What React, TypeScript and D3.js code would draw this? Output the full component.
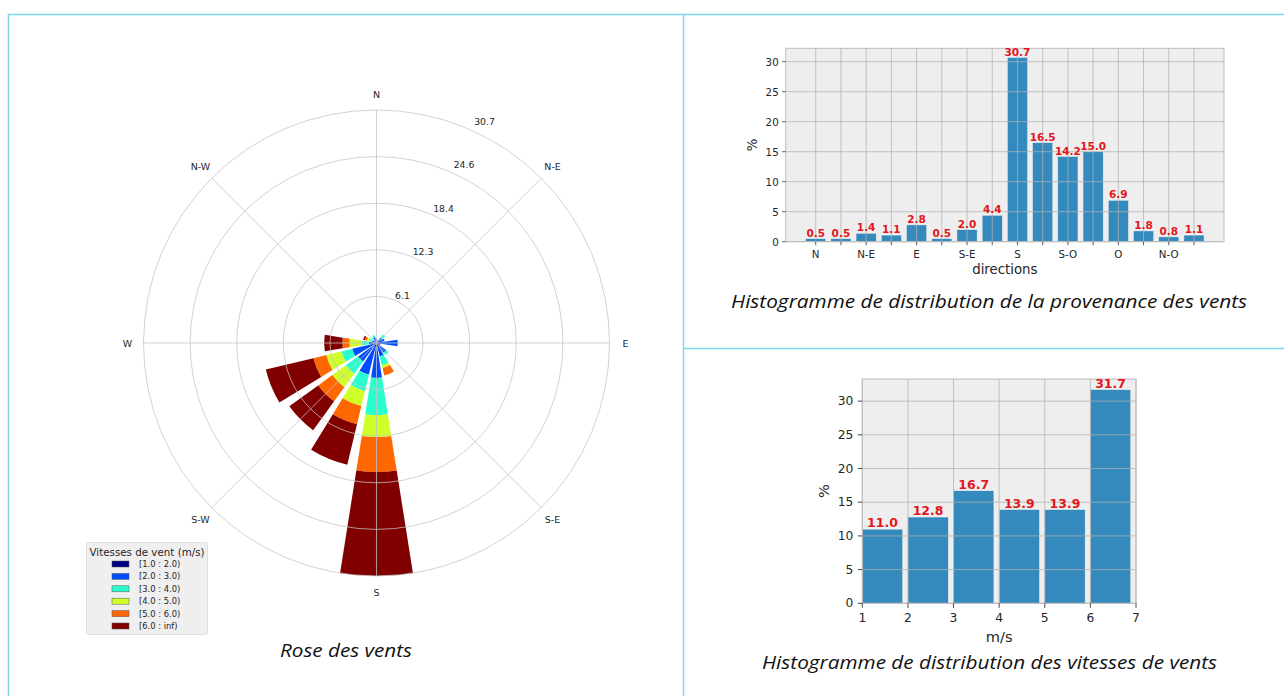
import React from "react";
import * as d3 from "d3";

// ---------- DATA ----------
const ROSE_DIRECTIONS = ["N", "NNE", "NE", "ENE", "E", "ESE", "SE", "SSE", "S", "SSW", "SW", "WSW", "W", "WNW", "NW", "NNW"];
const SPEED_LABELS = ["[1.0 : 2.0)", "[2.0 : 3.0)", "[3.0 : 4.0)", "[4.0 : 5.0)", "[5.0 : 6.0)", "[6.0 : inf)"];
const SPEED_COLORS = ["#000080", "#004cff", "#29ffce", "#ceff29", "#ff6800", "#800000"];
// share (%) of each direction for every speed bin
const BIN_1_2 = [0.2, 0.1, 0.3, 0.3, 0.6, 0.2, 0.4, 0.4, 0.6, 0.6, 0.5, 0.4, 0.3, 0.2, 0.2, 0.3];
const BIN_2_3 = [0.3, 0.2, 0.6, 0.8, 2.2, 0.3, 1.2, 1.4, 4.0, 3.7, 2.5, 2.9, 0.7, 0.4, 0.3, 0.5];
const BIN_3_4 = [0, 0.2, 0.5, 0, 0, 0, 0.4, 1.2, 4.9, 2.2, 2.0, 1.45, 0.9, 0.4, 0.3, 0.3];
const BIN_4_5 = [0, 0, 0, 0, 0, 0, 0, 0.4, 2.9, 2.05, 2.2, 2.05, 1.66, 0.3, 0, 0];
const BIN_5_6 = [0, 0, 0, 0, 0, 0, 0, 1.0, 4.6, 2.45, 2.3, 1.75, 0.94, 0.3, 0, 0];
const BIN_6_INF = [0, 0, 0, 0, 0, 0, 0, 0, 13.7, 5.5, 4.7, 6.45, 2.4, 0.2, 0, 0];
const ROSE_BINS = [BIN_1_2, BIN_2_3, BIN_3_4, BIN_4_5, BIN_5_6, BIN_6_INF];
const ROSE_COMPASS = ["N", "N-E", "E", "S-E", "S", "S-W", "W", "N-W"];
const RING_LABELS = ["6.1", "12.3", "18.4", "24.6", "30.7"];
const RING_MAX = 30.7;

const DIR_PCT = [0.5, 0.5, 1.4, 1.1, 2.8, 0.5, 2.0, 4.4, 30.7, 16.5, 14.2, 15.0, 6.9, 1.8, 0.8, 1.1];
const DIR_TICKS = ["N", "", "N-E", "", "E", "", "S-E", "", "S", "", "S-O", "", "O", "", "N-O", ""];
const DIR_YTICKS = [0, 5, 10, 15, 20, 25, 30];

const SPEED_START = [1, 2, 3, 4, 5, 6];
const SPEED_PCT = [11.0, 12.8, 16.7, 13.9, 13.9, 31.7];
const SPEED_XTICKS = [1, 2, 3, 4, 5, 6, 7];
const SPEED_YTICKS = [0, 5, 10, 15, 20, 25, 30];

const CAPTION_ROSE = "Rose des vents";
const CAPTION_DIR = "Histogramme de distribution de la provenance des vents";
const CAPTION_SPEED = "Histogramme de distribution des vitesses de vents";

// ---------- STYLE ----------
const MPL = "'DejaVu Sans', sans-serif";
const CAP = "'Open Sans', 'Noto Sans', sans-serif";
const FRAME = "#7fd4f0";
const BAR = "#348abd";
const AX_BG = "#eeeeee";
const GRID = "#b2b2b2";
const RED = "#e3161c";

function Rose() {
  const cx = 376.5, cy = 343;
  const r = d3.scaleLinear().domain([0, RING_MAX]).range([0, 233]);
  const step = (2 * Math.PI) / ROSE_DIRECTIONS.length;
  const half = (step * 0.8) / 2;
  const arc = d3.arc<any>();
  const rings = RING_LABELS.map((_, i) => (RING_MAX * (i + 1)) / RING_LABELS.length);
  const segs: any[] = [];
  ROSE_DIRECTIONS.forEach((_, di) => {
    let acc = 0;
    ROSE_BINS.forEach((bin, bi) => {
      const v = bin[di];
      if (v > 0) {
        segs.push({
          d: arc({ innerRadius: r(acc), outerRadius: r(acc + v), startAngle: di * step - half, endAngle: di * step + half }),
          c: SPEED_COLORS[bi],
          k: `${di}-${bi}`,
        });
      }
      acc += v;
    });
  });
  return (
    <g>
      <g transform={`translate(${cx},${cy})`}>
        {segs.map((s) => (
          <path key={s.k} d={s.d as string} fill={s.c} />
        ))}
        {rings.map((v, i) => (
          <circle key={i} r={r(v)} fill="none" stroke="#c4c4c4" strokeWidth={0.9} opacity={0.85} />
        ))}
        {ROSE_COMPASS.map((lab, i) => {
          const a = (i * Math.PI) / 4;
          return (
            <line key={lab} x1={0} y1={0} x2={r(RING_MAX) * Math.sin(a)} y2={-r(RING_MAX) * Math.cos(a)} stroke="#c4c4c4" strokeWidth={0.9} opacity={0.85} />
          );
        })}
        {ROSE_COMPASS.map((lab, i) => {
          const a = (i * Math.PI) / 4;
          const rr = r(RING_MAX) + 16;
          return (
            <text key={"t" + lab} x={rr * Math.sin(a)} y={-rr * Math.cos(a)} textAnchor="middle" dominantBaseline="central" fontFamily={MPL} fontSize={9.5} fill="#262626">
              {lab}
            </text>
          );
        })}
        {rings.map((v, i) => {
          const rv = r(v);
          return (
            <text key={"r" + i} x={0.44 * rv + 5.5} y={-0.933 * rv - 4.5} textAnchor="middle" dominantBaseline="central" fontFamily={MPL} fontSize={9.3} fill="#262626">
              {RING_LABELS[i]}
            </text>
          );
        })}
      </g>
      {/* legend */}
      <g>
        <rect x={86.5} y={542.5} width={121} height={92} fill="#efefef" stroke="#e0e0e0" strokeWidth={1} rx={2} />
        <text x={147} y={552} textAnchor="middle" dominantBaseline="central" fontFamily={MPL} fontSize={10.3} fill="#262626">
          Vitesses de vent (m/s)
        </text>
        {SPEED_LABELS.map((lab, i) => (
          <g key={lab}>
            <rect x={112} y={564 + i * 12.4 - 3} width={17} height={6} fill={SPEED_COLORS[i]} stroke="#555" strokeWidth={0.5} />
            <text x={139} y={564 + i * 12.4} dominantBaseline="central" fontFamily={MPL} fontSize={8.4} fill="#262626">
              {lab}
            </text>
          </g>
        ))}
      </g>
    </g>
  );
}

function DirHist() {
  const x = d3.scaleLinear().domain([-1.19, 16.19]).range([785.7, 1224]);
  const y = d3.scaleLinear().domain([0, 32.235]).range([241.7, 48.3]);
  const bw = x(0.8) - x(0);
  const [x0, x1] = x.range();
  const [yb, yt] = y.range();
  return (
    <g>
      <rect x={x0} y={yt} width={x1 - x0} height={yb - yt} fill={AX_BG} />
      {DIR_PCT.map((v, i) => (
        <rect key={i} x={x(i) - bw / 2} y={y(v)} width={bw} height={y(0) - y(v)} fill={BAR} stroke={AX_BG} strokeWidth={0.5} />
      ))}
      {DIR_PCT.map((_, i) => (
        <line key={"gx" + i} x1={x(i)} x2={x(i)} y1={yt} y2={yb} stroke={GRID} strokeWidth={1} opacity={0.75} />
      ))}
      {DIR_YTICKS.map((t) => (
        <line key={"gy" + t} x1={x0} x2={x1} y1={y(t)} y2={y(t)} stroke={GRID} strokeWidth={1} opacity={0.75} />
      ))}
      <rect x={x0} y={yt} width={x1 - x0} height={yb - yt} fill="none" stroke="#bcbcbc" strokeWidth={1} />
      {DIR_PCT.map((_, i) => (
        <line key={"tx" + i} x1={x(i)} x2={x(i)} y1={yb} y2={yb + 3.5} stroke="#333" strokeWidth={0.8} />
      ))}
      {DIR_TICKS.map((lab, i) =>
        lab ? (
          <text key={"lx" + i} x={x(i)} y={258} textAnchor="middle" fontFamily={MPL} fontSize={10.3} fill="#262626">
            {lab}
          </text>
        ) : null
      )}
      {DIR_YTICKS.map((t) => (
        <g key={"ty" + t}>
          <line x1={x0 - 3.5} x2={x0} y1={y(t)} y2={y(t)} stroke="#333" strokeWidth={0.8} />
          <text x={x0 - 7} y={y(t)} textAnchor="end" dominantBaseline="central" fontFamily={MPL} fontSize={10.3} fill="#262626">
            {t}
          </text>
        </g>
      ))}
      {DIR_PCT.map((v, i) => (
        <text key={"a" + i} x={x(i)} y={y(v) - 2} textAnchor="middle" fontFamily={MPL} fontWeight="bold" fontSize={10.5} fill={RED}>
          {v.toFixed(1)}
        </text>
      ))}
      <text x={(x0 + x1) / 2} y={274} textAnchor="middle" fontFamily={MPL} fontSize={13.3} fill="#262626">
        directions
      </text>
      <text transform={`translate(752,${(yt + yb) / 2}) rotate(-90)`} textAnchor="middle" dominantBaseline="central" fontFamily={MPL} fontSize={13.3} fill="#262626">
        %
      </text>
    </g>
  );
}

function SpeedHist() {
  const x = d3.scaleLinear().domain([1, 7]).range([862.3, 1136]);
  const y = d3.scaleLinear().domain([0, 33.285]).range([603.3, 379]);
  const [x0, x1] = x.range();
  const [yb, yt] = y.range();
  const bw = x(1.885) - x(1);
  return (
    <g>
      <rect x={x0} y={yt} width={x1 - x0} height={yb - yt} fill={AX_BG} />
      {SPEED_PCT.map((v, i) => (
        <rect key={i} x={x(SPEED_START[i])} y={y(v)} width={bw} height={y(0) - y(v)} fill={BAR} stroke={AX_BG} strokeWidth={0.5} />
      ))}
      {SPEED_XTICKS.map((t) => (
        <line key={"gx" + t} x1={x(t)} x2={x(t)} y1={yt} y2={yb} stroke={GRID} strokeWidth={1} opacity={0.75} />
      ))}
      {SPEED_YTICKS.map((t) => (
        <line key={"gy" + t} x1={x0} x2={x1} y1={y(t)} y2={y(t)} stroke={GRID} strokeWidth={1} opacity={0.75} />
      ))}
      <rect x={x0} y={yt} width={x1 - x0} height={yb - yt} fill="none" stroke="#bcbcbc" strokeWidth={1} />
      {SPEED_XTICKS.map((t) => (
        <g key={"tx" + t}>
          <line x1={x(t)} x2={x(t)} y1={yb} y2={yb + 4.5} stroke="#333" strokeWidth={0.9} />
          <text x={x(t)} y={622} textAnchor="middle" fontFamily={MPL} fontSize={12.3} fill="#262626">
            {t}
          </text>
        </g>
      ))}
      {SPEED_YTICKS.map((t) => (
        <g key={"ty" + t}>
          <line x1={x0 - 4.5} x2={x0} y1={y(t)} y2={y(t)} stroke="#333" strokeWidth={0.9} />
          <text x={x0 - 9} y={y(t)} textAnchor="end" dominantBaseline="central" fontFamily={MPL} fontSize={12.3} fill="#262626">
            {t}
          </text>
        </g>
      ))}
      {SPEED_PCT.map((v, i) => (
        <text key={"a" + i} x={x(SPEED_START[i]) + bw / 2} y={y(v) - 2} textAnchor="middle" fontFamily={MPL} fontWeight="bold" fontSize={12.5} fill={RED}>
          {v.toFixed(1)}
        </text>
      ))}
      <text x={(x0 + x1) / 2} y={642} textAnchor="middle" fontFamily={MPL} fontSize={14.6} fill="#262626">
        m/s
      </text>
      <text transform={`translate(823,${(yt + yb) / 2}) rotate(-90)`} textAnchor="middle" dominantBaseline="central" fontFamily={MPL} fontSize={14.6} fill="#262626">
        %
      </text>
    </g>
  );
}

export default function App() {
  return (
    <svg width={1284} height={696} style={{ position: "absolute", left: 0, top: 0, background: "#fff" }}>
      <rect x={0} y={0} width={1284} height={696} fill="#fff" />
      {/* frame */}
      <line x1={8.5} y1={14} x2={8.5} y2={696} stroke={FRAME} strokeWidth={1.6} />
      <line x1={8} y1={14.5} x2={1284} y2={14.5} stroke={FRAME} strokeWidth={1.6} />
      <line x1={683.5} y1={14} x2={683.5} y2={696} stroke={FRAME} strokeWidth={1.4} />
      <line x1={683} y1={348.5} x2={1284} y2={348.5} stroke={FRAME} strokeWidth={1.6} />
      <Rose />
      <DirHist />
      <SpeedHist />
      <text x={346} y={657} textAnchor="middle" fontFamily={CAP} fontStyle="italic" fontSize={18} fill="#111" textLength={132} lengthAdjust="spacingAndGlyphs">
        {CAPTION_ROSE}
      </text>
      <text x={989} y={308} textAnchor="middle" fontFamily={CAP} fontStyle="italic" fontSize={18} fill="#111" textLength={516} lengthAdjust="spacingAndGlyphs">
        {CAPTION_DIR}
      </text>
      <text x={989.5} y={669} textAnchor="middle" fontFamily={CAP} fontStyle="italic" fontSize={18} fill="#111" textLength={455} lengthAdjust="spacingAndGlyphs">
        {CAPTION_SPEED}
      </text>
    </svg>
  );
}
